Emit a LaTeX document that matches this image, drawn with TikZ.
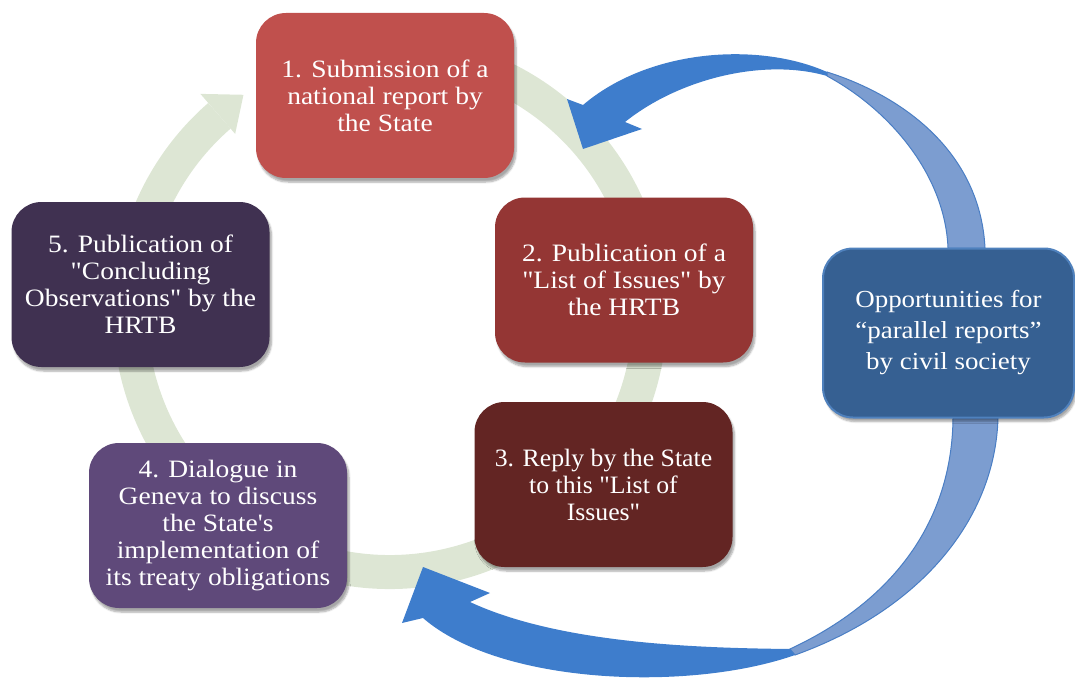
\documentclass[tikz,border=0pt]{standalone}
\usepackage{fontspec}
\setmainfont{Liberation Serif}[FakeStretch=1.1,Ligatures=TeXOff]
\newfontfamily\condfont{Liberation Serif}[FakeStretch=1.03,Ligatures=TeXOff]
\usetikzlibrary{calc,shadows.blur}
\definecolor{bA}{HTML}{C0504D}
\definecolor{bB}{HTML}{943634}
\definecolor{bC}{HTML}{632523}
\definecolor{bD}{HTML}{5F497A}
\definecolor{bE}{HTML}{403151}
\definecolor{oppfill}{HTML}{366092}
\definecolor{oppedge}{HTML}{4F81BD}
\definecolor{ringcol}{HTML}{DDE6D4}
\definecolor{vivid}{HTML}{3E7DCC}
\definecolor{pale}{HTML}{7C9DD0}
\definecolor{bluedge}{HTML}{4A7EC4}
\begin{document}
\begin{tikzpicture}[x=1pt,y=-1pt,
  box/.style={rounded corners=30pt, minimum width=258pt, minimum height=165pt,
    inner sep=0pt, text=white, align=center, font=\fontsize{25}{27}\selectfont,
    blur shadow={shadow xshift=2pt,shadow yshift=-4pt,shadow blur steps=6,shadow opacity=35}},
  ring/.style={line width=34pt, draw=ringcol},
  frontface/.style={fill=vivid},
  backface/.style={fill=pale, draw=bluedge, line width=1pt}]
\useasboundingbox (0,0) rectangle (1075,679);
% cycle ring
\coordinate (c) at (390,312);
\draw[ring] ($(c)+(-100:260)$) arc[start angle=-100,end angle=229,radius=260];
\fill[ringcol] ($(c)+(229:289)$) -- ($(c)+(236:262)$) -- ($(c)+(229:236)$) -- cycle;
% boxes
\node[box, fill=bA] (s1) at (385,95.5) {1. Submission of a\\national report by\\the State};
\node[box, fill=bB] (s2) at (624,280) {2. Publication of a\\"List of Issues" by\\the HRTB};
\node[box, fill=bC, font=\condfont\fontsize{25}{27}\selectfont] (s3) at (603.5,484.5) {3. Reply by the State\\to this "List of\\Issues"};
\node[box, fill=bD] (s4) at (218,525.5) {4. Dialogue in\\Geneva to discuss\\the State's\\implementation of\\its treaty obligations};
\node[box, fill=bE] (s5) at (140.5,284.5) {5. Publication of\\"Concluding\\Observations" by the\\HRTB};
% blue arrows
\coordinate (tw1) at (827,72);
\coordinate (tw1b) at (827,76);
\coordinate (tw2) at (795,655);
\coordinate (tw2b) at (790,649);
\fill[backface] (tw1) .. controls (900,95) and (980,150) .. (985,248) -- (948,248)
  .. controls (945,175) and (890,110) .. (tw1b) -- cycle;
\fill[frontface] (tw1) .. controls (760,42) and (650,48) .. (583,105) -- (567,99)
  -- (583,149) -- (642,129) -- (625,122) .. controls (680,78) and (765,58) .. (tw1b) -- cycle;
\fill[backface] (998,418) .. controls (995,520) and (920,610) .. (tw2) -- (tw2b)
  .. controls (895,600) and (952,520) .. (953,418) -- cycle;
\fill[frontface] (tw2) .. controls (690,692) and (500,685) .. (423,618) -- (402,623)
  -- (423,567) -- (490,593) -- (470,602) .. controls (560,644) and (700,648) .. (tw2b) -- cycle;
% civil society box
\node[box, fill=oppfill, draw=oppedge, line width=2pt, minimum width=251pt, minimum height=169pt,
  font=\fontsize{24.5}{31}\selectfont] (opp) at (948.5,333) {Opportunities for\\“parallel reports”\\by civil society};
\end{tikzpicture}
\end{document}
